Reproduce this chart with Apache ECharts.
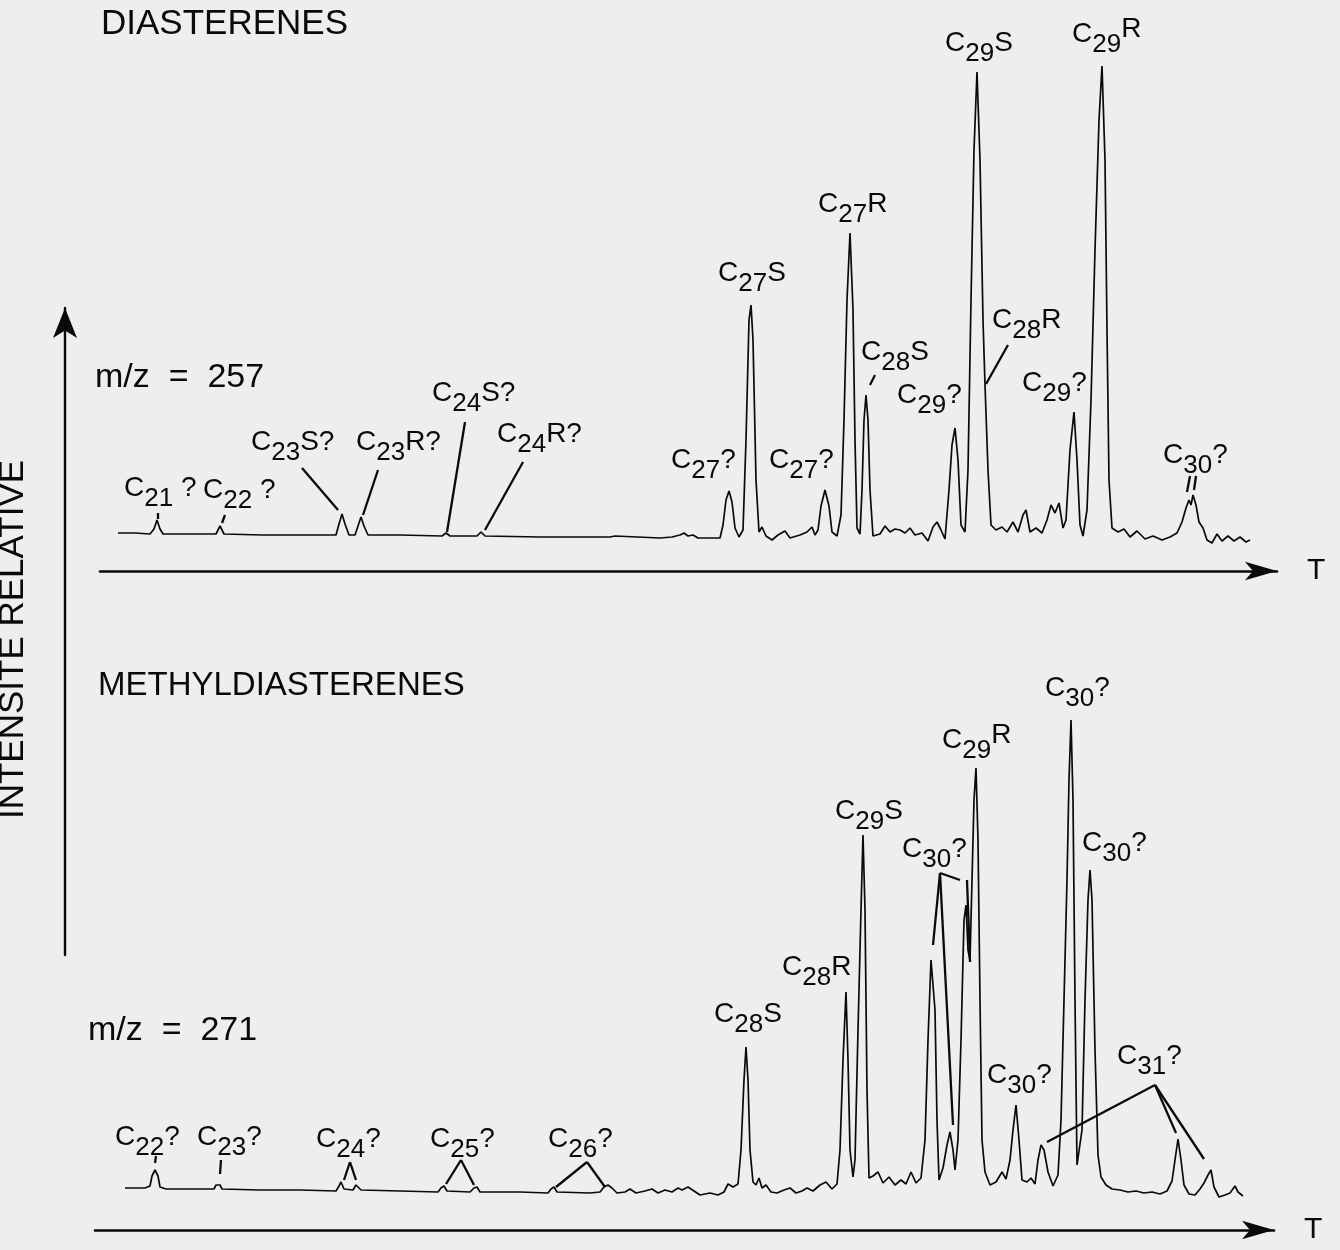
<!DOCTYPE html>
<html><head><meta charset="utf-8">
<script src="https://cdn.jsdelivr.net/npm/echarts@6/dist/echarts.min.js"></script>
<style>html,body{margin:0;padding:0;background:#efeeec}#c{width:1340px;height:1250px}</style>
</head><body><div id="c"></div>
<script>
// ---- DATA (retention position, relative intensity) ----
const diasterenesTrace = [[118,5],[135,5],[150,4],[154,9],[157,18],[160,9],[163,4],[190,4],[216,4],[218,8],[220,12],[222,8],[224,4],[262,3],[300,3],[336,3],[339,14],[342,24],[345,14],[349,3],[355,3],[358,12],[361,21],[364,12],[368,3],[400,3],[442,2],[446,5],[450,2],[477,2],[481,6],[485,2],[540,1],[610,1],[615,2],[660,0],[672,1],[680,3],[684,5],[688,2],[693,3],[698,0],[720,0],[723,13],[726,38],[729,47],[732,36],[735,10],[739,1],[743,8],[746,98],[749,218],[751,233],[753,198],[756,58],[759,6],[762,11],[766,2],[772,-2],[778,3],[785,7],[790,0],[800,3],[807,6],[812,11],[815,3],[818,8],[821,32],[825,48],[829,32],[832,6],[837,2],[841,23],[844,118],[847,238],[850,305],[853,228],[855,98],[857,10],[860,4],[862,48],[864,118],[866,143],[868,118],[870,48],[873,2],[880,4],[885,12],[890,6],[895,9],[900,8],[905,5],[910,10],[915,3],[922,5],[928,-3],[933,11],[937,16],[941,8],[945,-1],[949,48],[952,93],[955,110],[958,78],[961,13],[965,6],[968,68],[971,238],[974,388],[977,466],[980,378],[983,218],[985,153],[988,68],[991,13],[996,8],[1002,11],[1007,6],[1013,16],[1018,6],[1023,23],[1026,28],[1030,6],[1036,10],[1042,5],[1047,18],[1051,33],[1055,25],[1059,35],[1063,10],[1066,18],[1070,88],[1074,126],[1077,78],[1080,13],[1083,2],[1087,28],[1091,138],[1095,288],[1099,418],[1102,472],[1105,378],[1107,208],[1109,58],[1112,10],[1118,6],[1124,9],[1130,1],[1137,7],[1145,-1],[1153,2],[1162,-2],[1170,1],[1177,5],[1182,16],[1186,30],[1189,38],[1191,33],[1193,43],[1196,33],[1199,16],[1203,10],[1207,-2],[1212,-5],[1217,4],[1222,-3],[1228,2],[1234,-3],[1240,1],[1246,-4],[1250,-2]];

const methylTrace = [[125,7],[145,7],[150,9],[152,19],[155,25],[158,19],[160,8],[166,6],[200,6],[214,6],[216,10],[218,12],[220,10],[222,6],[260,5],[300,5],[336,4],[339,9],[341,13],[344,6],[353,5],[356,10],[358,11],[361,5],[400,4],[438,3],[441,7],[444,9],[447,4],[470,3],[474,7],[477,8],[480,3],[520,3],[548,2],[551,6],[554,8],[557,3],[590,2],[600,3],[604,8],[608,10],[612,7],[617,2],[625,3],[630,6],[636,2],[645,4],[652,6],[658,2],[665,5],[672,3],[678,7],[682,5],[688,8],[694,4],[700,0],[710,2],[718,0],[724,3],[728,11],[733,8],[738,11],[741,45],[744,115],[746,148],[748,115],[750,45],[753,13],[756,10],[759,17],[762,7],[766,10],[771,3],[777,2],[784,5],[790,7],[796,2],[802,4],[807,7],[813,4],[820,10],[826,13],[832,6],[837,11],[840,45],[843,135],[846,203],[848,135],[850,45],[853,18],[855,35],[858,165],[861,285],[863,360],[865,285],[867,105],[869,17],[873,19],[878,23],[883,12],[889,18],[895,10],[901,15],[906,11],[911,23],[916,12],[921,17],[925,55],[928,155],[931,235],[933,237],[935,185],[937,75],[939,15],[943,27],[947,50],[950,63],[953,45],[955,25],[958,55],[961,155],[964,275],[966,290],[968,245],[970,235],[972,315],[974,395],[976,427],[978,355],[980,195],[982,55],[985,23],[990,10],[996,13],[1002,23],[1006,16],[1010,35],[1013,65],[1016,90],[1019,55],[1022,15],[1027,13],[1031,17],[1035,11],[1038,35],[1041,50],[1044,45],[1048,23],[1053,9],[1058,20],[1061,75],[1064,195],[1067,315],[1069,415],[1071,475],[1073,395],[1075,195],[1077,30],[1079,32],[1082,65],[1085,195],[1088,295],[1090,325],[1092,295],[1095,145],[1098,40],[1101,18],[1106,10],[1112,6],[1120,5],[1128,3],[1136,4],[1144,2],[1152,3],[1160,1],[1167,4],[1172,14],[1175,35],[1178,56],[1181,35],[1184,10],[1189,1],[1195,0],[1200,6],[1204,12],[1208,20],[1211,25],[1214,8],[1219,-2],[1225,0],[1230,2],[1235,9],[1238,3],[1243,-1]];

// peak labels: [anchor time, anchor intensity, carbon number, suffix, raised suffix]
const diasterenesLabels = [[124,50,'21',' ?',0],[203,48,'22',' ?',0],[251,96,'23','S?',0],[356,96,'23','R?',0],[432,145,'24','S?',0],[497,104,'24','R?',0],[671,78,'27','?',0],[718,265,'27','S',0],[769,78,'27','?',0],[818,334,'27','R',0],[861,186,'28','S',0],[897,143,'29','?',0],[945,495,'29','S',0],[992,218,'28','R',0],[1022,155,'29','?',0],[1072,504,'29','R',1],[1163,83,'30','?',0]];
const methylLabels = [[115,58,'22','?',0],[197,58,'23','?',0],[316,56,'24','?',0],[430,56,'25','?',0],[548,56,'26','?',0],[714,181,'28','S',0],[782,228,'28','R',0],[835,384,'29','S',0],[902,346,'30','?',0],[942,455,'29','R',1],[1045,507,'30','?',0],[1082,352,'30','?',0],[987,120,'30','?',0],[1117,139,'31','?',0]];

// leader segments [t1, i1, t2, i2]
const diasterenesLeaders = [[158,25,158,19],[225,23,222,15],[302,70,338,28],[378,68,363,23],[465,116,447,6],[523,76,485,8],[875,163,870,153],[1008,193,986,154],[1190,62,1187,46],[1196,62,1194,48]];
const methylLeaders = [[156,39,155,32],[221,35,220,21],[344,15,350,33],[350,33,356,15],[446,11,461,35],[461,35,474,10],[556,8,587,33],[587,33,605,8],[940,322,933,250],[940,322,953,70],[940,322,960,315],[967,315,970,233],[1155,110,1047,53],[1155,110,1176,62],[1155,110,1204,36]];

const panelTitles = ['DIASTERENES', 'METHYLDIASTERENES'];
const massLabels = ['m/z  =  257', 'm/z  =  271'];
const yAxisTitle = 'INTENSITE RELATIVE';
const timeLabel = 'T';

// ---- RENDER ----
const FONT = '"Liberation Sans", Arial, Helvetica, sans-serif';
const INK = '#0a0a0a';
const rich = {
  m: {fontSize: 28, lineHeight: 28, fontFamily: FONT, color: INK, opacity: 1},
  sb: {fontSize: 26, lineHeight: 26, padding: [22, 0, 0, 0], fontFamily: FONT, color: INK, opacity: 1},
  up: {fontSize: 28, lineHeight: 28, padding: [0, 0, 10, 0], fontFamily: FONT, color: INK, opacity: 1}
};
function labelText(l) {
  return '{m|C}{sb|' + l[2] + '}' + (l[4] ? '{up|' + l[3] + '}' : '{m|' + l[3] + '}');
}
function labelSeries(labels, leaders, idx) {
  return {
    type: 'scatter', xAxisIndex: idx, yAxisIndex: idx, silent: true,
    symbolSize: 0, itemStyle: {color: INK, opacity: 1},
    data: labels.map(l => ({name: labelText(l), value: [l[0], l[1]]})),
    label: {show: true, position: [0, 0], align: 'left', verticalAlign: 'middle',
      color: INK, opacity: 1, textBorderWidth: 0,
      formatter: p => p.name, rich: rich},
    markLine: {
      silent: true, symbol: ['none', 'none'], animation: false,
      label: {show: false},
      lineStyle: {color: INK, width: 2.3, type: 'solid', opacity: 1},
      emphasis: {disabled: true},
      data: leaders.map(s => [{coord: [s[0], s[1]]}, {coord: [s[2], s[3]]}])
    }
  };
}
function traceSeries(trace, idx) {
  return {type: 'line', xAxisIndex: idx, yAxisIndex: idx, data: trace, showSymbol: false,
    silent: true, lineStyle: {color: INK, width: 1.7}, clip: false};
}
function timeAxis(idx, min, max) {
  return {gridIndex: idx, type: 'value', min: min, max: max, position: 'bottom',
    axisLine: {show: true, onZero: false, symbol: ['none', 'arrow'], symbolSize: [14, 32],
      lineStyle: {color: INK, width: 2.6}},
    axisTick: {show: false}, axisLabel: {show: false}, splitLine: {show: false},
    name: timeLabel, nameLocation: 'end', nameGap: 30,
    nameTextStyle: {fontSize: 30, color: INK, fontFamily: FONT}};
}
const chart = echarts.init(document.getElementById('c'), null, {renderer: 'canvas'});
chart.setOption({
  animation: false,
  backgroundColor: '#efeeec',
  grid: [
    {left: 100, right: 63, top: 0, height: 571, outerBoundsMode: 'none'},
    {left: 95, right: 66, top: 650, height: 580, outerBoundsMode: 'none'},
    {left: 65, width: 20, top: 308, height: 647, outerBoundsMode: 'none'}
  ],
  xAxis: [timeAxis(0, 100, 1277), timeAxis(1, 95, 1274),
    {gridIndex: 2, type: 'value', show: false, min: 0, max: 1}],
  yAxis: [
    {gridIndex: 0, type: 'value', min: -33, max: 538, show: false},
    {gridIndex: 1, type: 'value', min: -35, max: 545, show: false},
    {gridIndex: 2, type: 'value', min: 0, max: 1, position: 'left',
      axisLine: {show: true, symbol: ['none', 'arrow'], symbolSize: [18, 30],
        lineStyle: {color: INK, width: 2.4}},
      axisTick: {show: false}, axisLabel: {show: false}, splitLine: {show: false},
      name: yAxisTitle, nameLocation: 'middle', nameRotate: 90, nameGap: 34,
      nameTextStyle: {fontSize: 35, color: INK, fontFamily: FONT, padding: [0, 16, 0, 0]}}
  ],
  graphic: [
    {type: 'text', x: 101, y: 24, style: {text: panelTitles[0], fontSize: 35, fontFamily: FONT, fill: INK, verticalAlign: 'middle'}},
    {type: 'text', x: 98, y: 686, style: {text: panelTitles[1], fontSize: 33, fontFamily: FONT, fill: INK, verticalAlign: 'middle'}},
    {type: 'text', x: 95, y: 378, style: {text: massLabels[0], fontSize: 34, fontFamily: FONT, fill: INK, verticalAlign: 'middle'}},
    {type: 'text', x: 88, y: 1031, style: {text: massLabels[1], fontSize: 34, fontFamily: FONT, fill: INK, verticalAlign: 'middle'}}
  ],
  series: [
    traceSeries(diasterenesTrace, 0),
    labelSeries(diasterenesLabels, diasterenesLeaders, 0),
    traceSeries(methylTrace, 1),
    labelSeries(methylLabels, methylLeaders, 1)
  ]
});
</script></body></html>
